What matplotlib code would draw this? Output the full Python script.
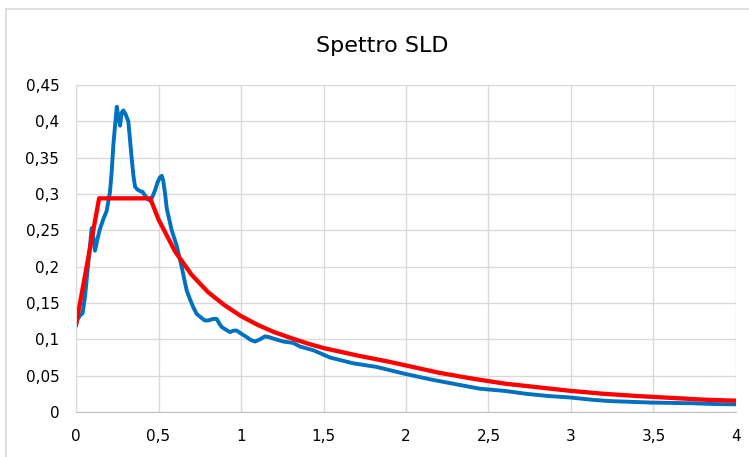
import numpy as np
import matplotlib.pyplot as plt
from matplotlib.ticker import FuncFormatter, MultipleLocator
from matplotlib.lines import Line2D

# blue: spettro misurato
t_blue = [0.0, 0.01, 0.025, 0.04, 0.055, 0.075, 0.095, 0.105, 0.115, 0.13, 0.145,
          0.165, 0.186, 0.206, 0.216, 0.226, 0.237, 0.247, 0.257, 0.267, 0.277,
          0.287, 0.3, 0.317, 0.327, 0.337, 0.348, 0.358, 0.373, 0.388, 0.403,
          0.418, 0.433, 0.448, 0.463, 0.479, 0.494, 0.509, 0.52, 0.529, 0.54,
          0.55, 0.565, 0.58, 0.61, 0.64, 0.671, 0.691, 0.711, 0.731, 0.752,
          0.78, 0.802, 0.83, 0.853, 0.868, 0.883, 0.91, 0.933, 0.955, 0.974,
          1.0, 1.035, 1.06, 1.085, 1.115, 1.145, 1.17, 1.196, 1.256, 1.317,
          1.358, 1.438, 1.539, 1.68, 1.822, 1.984, 2.145, 2.307, 2.448, 2.6,
          2.73, 2.86, 2.994, 3.12, 3.236, 3.36, 3.479, 3.6, 3.74, 3.86, 4.0]
sa_blue = [0.12, 0.128, 0.133, 0.136, 0.16, 0.206, 0.253, 0.24, 0.222, 0.238, 0.252,
           0.265, 0.277, 0.303, 0.33, 0.367, 0.395, 0.42, 0.405, 0.394, 0.412,
           0.415, 0.41, 0.40, 0.375, 0.35, 0.325, 0.31, 0.306, 0.304, 0.303,
           0.298, 0.293, 0.291, 0.296, 0.305, 0.316, 0.323, 0.325, 0.318, 0.30,
           0.28, 0.265, 0.25, 0.229, 0.2, 0.167, 0.155, 0.144, 0.135, 0.131,
           0.126, 0.126, 0.128, 0.128, 0.122, 0.117, 0.113, 0.11, 0.112, 0.112,
           0.108, 0.103, 0.099, 0.097, 0.10, 0.104, 0.103, 0.101, 0.097, 0.095,
           0.09, 0.085, 0.075, 0.067, 0.062, 0.053, 0.045, 0.038, 0.032, 0.029,
           0.025, 0.022, 0.02, 0.017, 0.015, 0.014, 0.013, 0.0125, 0.012, 0.011, 0.0105]

# red: spettro SLD
t_red = [0.0, 0.14, 0.45, 0.5, 0.6, 0.7, 0.8, 0.9, 1.0, 1.1, 1.2, 1.3, 1.4, 1.5,
         1.6, 1.7, 1.8, 1.9, 2.0, 2.2, 2.4, 2.6, 2.8, 3.0, 3.2, 3.4, 3.6, 3.8, 4.0]
sa_red = [0.12, 0.294, 0.294, 0.265, 0.221, 0.189, 0.165, 0.147, 0.132, 0.120,
          0.110, 0.102, 0.0945, 0.088, 0.083, 0.078, 0.0735, 0.069, 0.064, 0.054,
          0.046, 0.039, 0.034, 0.029, 0.025, 0.022, 0.0195, 0.017, 0.0155]

fig = plt.figure(figsize=(7.49, 4.57), dpi=100)
ax = fig.add_axes([0.1015, 0.0985, 0.8811, 0.7155])

ax.plot(t_blue, sa_blue, color='#0070C0', linewidth=2.8, solid_joinstyle='round')
ax.plot(t_red, sa_red, color='#FF0000', linewidth=3.1, solid_joinstyle='round')

ax.set_xlim(0, 4)
ax.set_ylim(0, 0.45)
ax.xaxis.set_major_locator(MultipleLocator(0.5))
ax.yaxis.set_major_locator(MultipleLocator(0.05))
fmt = FuncFormatter(lambda v, p: f"{v:g}".replace('.', ','))
ax.xaxis.set_major_formatter(fmt)
ax.yaxis.set_major_formatter(fmt)

ax.grid(True, color='#d9d9d9', linewidth=1.0)
ax.set_axisbelow(True)
for s in ['top', 'right']:
    ax.spines[s].set_visible(False)
ax.spines['left'].set_color('#d9d9d9')
ax.spines['bottom'].set_color('#bfbfbf')
ax.tick_params(length=0, labelsize=11, colors='#000000')
ax.tick_params(axis='x', pad=12)
ax.tick_params(axis='y', pad=12)

fig.text(0.511, 0.9, 'Spettro SLD', ha='center', va='center', fontsize=16)

# chart border (left and top edges visible)
fig.add_artist(Line2D([0.008, 0.008], [0, 0.981], transform=fig.transFigure,
                      color='#d9d9d9', linewidth=1.2))
fig.add_artist(Line2D([0.008, 1], [0.981, 0.981], transform=fig.transFigure,
                      color='#d9d9d9', linewidth=1.2))

fig.savefig('out.png', dpi=100)
